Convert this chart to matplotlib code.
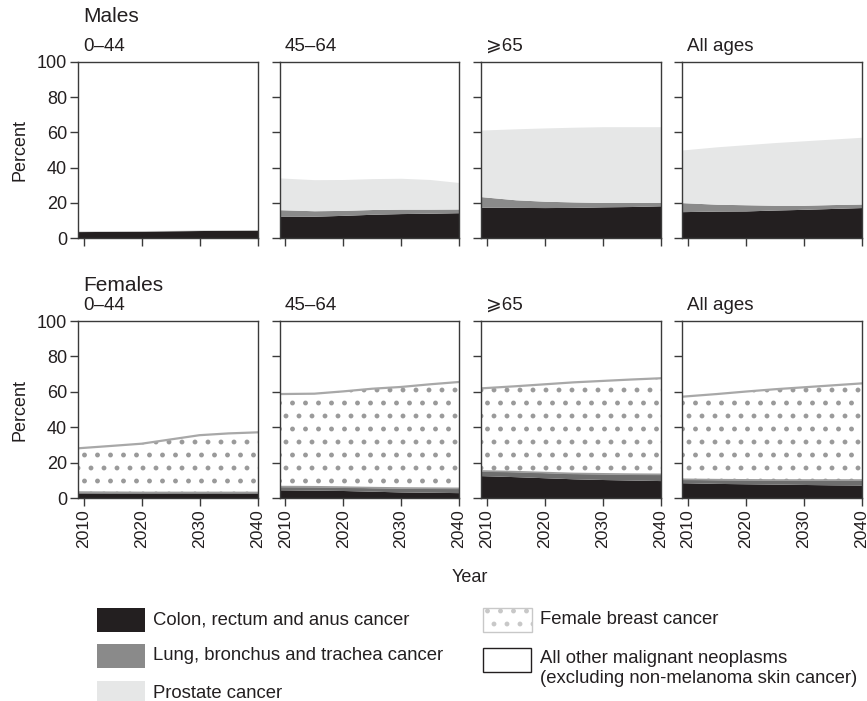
import matplotlib.pyplot as plt
from matplotlib.patches import Rectangle

# the dot hatch is tied to dpi, so draw at a lower dpi and scale points up
DPI = 78
K = 100 / DPI

plt.rcParams["font.family"] = ["Liberation Sans", "DejaVu Sans"]
plt.rcParams["hatch.linewidth"] = 1.6 * K

years = [2009, 2015, 2020, 2025, 2030, 2035, 2040]
age_groups = ["0\u201344", "45\u201364", "\u2a7e65", "All ages"]

# upper edge of each stacked layer, cumulative percent, one row per age group
male_colon = [
    [3.8, 3.9, 4.0, 4.2, 4.4, 4.5, 4.6],
    [12.6, 12.5, 13.0, 13.6, 14.0, 14.2, 14.5],
    [17.6, 17.5, 17.4, 17.5, 17.8, 18.0, 18.4],
    [15.1, 15.4, 15.5, 16.0, 16.4, 16.9, 17.4],
]
male_lung = [
    [4.0, 4.1, 4.2, 4.4, 4.6, 4.7, 4.8],
    [16.2, 15.6, 15.8, 16.3, 16.5, 16.5, 16.6],
    [23.6, 21.8, 21.0, 20.6, 20.3, 20.3, 20.4],
    [20.2, 19.3, 19.0, 18.7, 18.7, 19.1, 19.4],
]
male_prostate = [
    [4.2, 4.3, 4.4, 4.6, 4.8, 4.9, 5.0],
    [34.2, 33.2, 33.3, 33.8, 34.0, 33.3, 31.6],
    [61.3, 62.0, 62.5, 62.9, 63.2, 63.2, 63.2],
    [50.0, 51.8, 53.0, 54.2, 55.2, 56.2, 57.2],
]
female_colon = [
    [3.0, 2.9, 2.8, 2.8, 2.8, 2.8, 2.8],
    [4.8, 4.6, 4.4, 4.0, 3.6, 3.4, 3.2],
    [12.8, 12.2, 11.6, 11.0, 10.6, 10.3, 10.0],
    [8.8, 8.4, 8.2, 8.0, 7.8, 7.6, 7.5],
]
female_lung = [
    [3.5, 3.4, 3.3, 3.3, 3.3, 3.3, 3.3],
    [6.6, 6.5, 6.3, 6.0, 5.8, 5.7, 5.6],
    [15.4, 15.0, 14.5, 14.0, 13.8, 13.6, 13.5],
    [10.7, 10.5, 10.4, 10.3, 10.3, 10.3, 10.3],
]
female_breast = [
    [28.2, 29.6, 30.8, 33.2, 35.6, 36.6, 37.2],
    [58.8, 59.0, 60.3, 61.8, 62.8, 64.3, 65.6],
    [62.0, 63.2, 64.3, 65.4, 66.2, 67.0, 67.7],
    [57.3, 58.8, 60.2, 61.5, 62.6, 63.7, 64.8],
]

legend_left = ["Colon, rectum and anus cancer", "Lung, bronchus and trachea cancer", "Prostate cancer"]
legend_right = ["Female breast cancer", "All other malignant neoplasms\n(excluding non-melanoma skin cancer)"]

C_COLON = "#231f20"
C_LUNG_M = "#8a8a8a"
C_LUNG_F = "#6e6e6e"
C_PROSTATE = "#e6e7e7"
C_DOT = "#9a9a9a"
C_EDGE = "#a8a8a8"
C_AXIS = "#3a3a3a"
C_TEXT = "#231f20"

W, H = 867, 701
fig = plt.figure(figsize=(W / DPI, H / DPI), dpi=DPI)


def px_axes(left, top, w, h):
    return fig.add_axes([left / W, 1 - (top + h) / H, w / W, h / H])


def style(ax, first, bottom):
    ax.set_xlim(2009, 2040)
    ax.set_ylim(0, 100)
    ax.set_xticks([2010, 2020, 2030, 2040])
    ax.set_yticks([0, 20, 40, 60, 80, 100])
    for s in ax.spines.values():
        s.set_color(C_AXIS)
        s.set_linewidth(1.0 * K)
    ax.tick_params(direction="out", length=6 * K, width=1 * K, color=C_AXIS,
                   labelsize=13 * K, labelcolor=C_TEXT, pad=2 * K)
    if not first:
        ax.set_yticklabels([])
    if bottom:
        ax.tick_params(axis="x", labelrotation=90, labelsize=12.6 * K)
    else:
        ax.set_xticklabels([])


lefts = [78, 279.5, 481, 682]
pw = 179.5

for i, age in enumerate(age_groups):
    # males
    ax = px_axes(lefts[i], 61.7, pw, 176.6)
    ax.fill_between(years, 0, male_colon[i], color=C_COLON, lw=0)
    ax.fill_between(years, male_colon[i], male_lung[i], color=C_LUNG_M, lw=0)
    ax.fill_between(years, male_lung[i], male_prostate[i], color=C_PROSTATE, lw=0)
    style(ax, i == 0, False)
    ax.annotate(age, xy=(0, 1), xycoords="axes fraction", xytext=(5, 11),
                textcoords="offset pixels", fontsize=13.5 * K, color=C_TEXT, va="baseline")

    # females
    ax = px_axes(lefts[i], 321, pw, 177.3)
    ax.fill_between(years, 0, female_colon[i], color=C_COLON, lw=0)
    ax.fill_between(years, female_colon[i], female_lung[i], color=C_LUNG_F, lw=0)
    ax.fill_between(years, female_lung[i], female_breast[i], facecolor="white",
                    edgecolor=C_DOT, hatch=".", lw=0)
    ax.plot(years, female_lung[i], color="#9c9c9c", lw=1.2 * K)
    ax.plot(years, female_breast[i], color=C_EDGE, lw=1.6 * K)
    style(ax, i == 0, True)
    ax.annotate(age, xy=(0, 1), xycoords="axes fraction", xytext=(5, 11),
                textcoords="offset pixels", fontsize=13.5 * K, color=C_TEXT, va="baseline")

fig.text(83 / W, 1 - 17 / H, "Males", fontsize=15 * K, color=C_TEXT, va="center")
fig.text(83 / W, 1 - 285 / H, "Females", fontsize=15 * K, color=C_TEXT, va="center")
fig.text(20 / W, 1 - 150 / H, "Percent", fontsize=13 * K, color=C_TEXT, rotation=90,
         va="center", ha="center")
fig.text(20 / W, 1 - 410 / H, "Percent", fontsize=13 * K, color=C_TEXT, rotation=90,
         va="center", ha="center")
fig.text(470 / W, 1 - 577 / H, "Year", fontsize=13 * K, color=C_TEXT, va="center", ha="center")

# legend drawn in pixel coordinates
lax = fig.add_axes([0, 0, 1, 1])
lax.set_xlim(0, W)
lax.set_ylim(H, 0)
lax.axis("off")

left_colors = [C_COLON, C_LUNG_M, C_PROSTATE]
for label, color, y in zip(legend_left, left_colors, [608, 644, 681]):
    lax.add_patch(Rectangle((97, y), 48, 24, facecolor=color, edgecolor="none"))
    lax.text(153, y + 12, label, fontsize=13.3 * K, color=C_TEXT, va="center")

lax.add_patch(Rectangle((483, 608), 49, 24, facecolor="white", edgecolor="#c8c8c8",
                        lw=1 * K, hatch="."))
lax.text(540, 620, legend_right[0], fontsize=13.3 * K, color=C_TEXT, va="center")
lax.add_patch(Rectangle((483, 648), 48, 24, facecolor="white", edgecolor=C_TEXT, lw=1 * K))
lax.text(540, 650, legend_right[1], fontsize=13.3 * K, color=C_TEXT, va="top", linespacing=1.2)

fig.savefig("out.png", dpi=DPI)
